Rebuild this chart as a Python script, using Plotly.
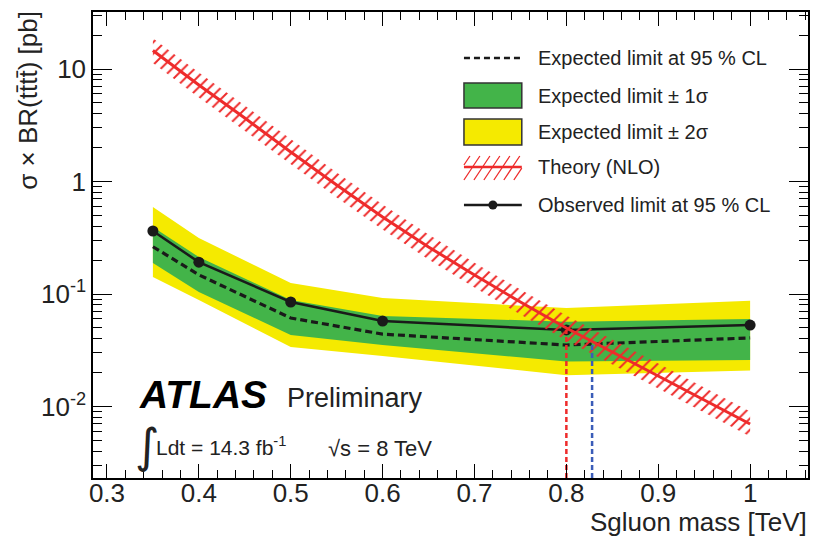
import plotly.graph_objects as go

# ---------------- data ----------------
mass = [0.35, 0.40, 0.50, 0.60, 0.80, 1.00]
observed = [0.363, 0.192, 0.0849, 0.0575, 0.0479, 0.0530]
expected = [0.263, 0.148, 0.0612, 0.0440, 0.0352, 0.0407]
exp_1s_up = [0.394, 0.213, 0.0885, 0.0637, 0.0568, 0.0600]
exp_1s_dn = [0.189, 0.104, 0.0432, 0.0352, 0.0251, 0.0259]
exp_2s_up = [0.593, 0.315, 0.125, 0.092, 0.0750, 0.0870]
exp_2s_dn = [0.1416, 0.0885, 0.0338, 0.0281, 0.0190, 0.0209]

theory_mass = [0.35, 0.40, 0.45, 0.50, 0.55, 0.60, 0.65, 0.70, 0.75, 0.80, 0.85, 0.90, 0.95, 1.00]
theory = [14.6, 7.21, 3.67, 1.83, 0.931, 0.484, 0.262, 0.1475, 0.0849, 0.0499, 0.0305, 0.01866, 0.01142, 0.00699]
theory_up = [18.8, 9.30, 4.73, 2.36, 1.20, 0.624, 0.338, 0.190, 0.1095, 0.0644, 0.0393, 0.0241, 0.01473, 0.00902]
theory_dn = [11.3, 5.59, 2.84, 1.42, 0.722, 0.375, 0.203, 0.1143, 0.0658, 0.0387, 0.0236, 0.01447, 0.00885, 0.00542]

obs_limit_mass, obs_limit_xsec = 0.800, 0.0479
exp_limit_mass, exp_limit_xsec = 0.828, 0.0366

x_ticks = [0.3, 0.4, 0.5, 0.6, 0.7, 0.8, 0.9, 1.0]
x_ticktext = ["0.3", "0.4", "0.5", "0.6", "0.7", "0.8", "0.9", "1"]
y_ticks = [0.01, 0.1, 1, 10]
y_ticktext = ["10<sup>-2</sup>", "10<sup>-1</sup>", "1", "10"]

legend_labels = ["Expected limit at 95 % CL", "Expected limit \u00b1 1\u03c3",
                 "Expected limit \u00b1 2\u03c3", "Theory (NLO)", "Observed limit at 95 % CL"]

# ---------------- style ----------------
FONT = "Liberation Sans, Arial, Helvetica, sans-serif"
GREEN = "#43b449"
YELLOW = "#f5ea00"
RED = "#ee2b2b"
BLUE = "#3a5cb8"
BLACK = "#1a1a1a"

W, H = 814, 542
L, R, T, B = 93, 810, 12, 478
x_range = [0.2848, 1.0630]
y_range = [-2.6356, 1.5067]
y_axis_min = 10 ** y_range[0]


def px(x):
    return (x - L) / (R - L)


def py(y):
    return (B - y) / (B - T)


fig = go.Figure()

# 2 sigma band
fig.add_trace(go.Scatter(x=mass, y=exp_2s_dn, mode="lines", line=dict(width=0, color=YELLOW),
                         showlegend=False, hoverinfo="skip"))
fig.add_trace(go.Scatter(x=mass, y=exp_2s_up, mode="lines", line=dict(width=0, color=YELLOW),
                         fill="tonexty", fillcolor=YELLOW, showlegend=False, hoverinfo="skip"))
# 1 sigma band
fig.add_trace(go.Scatter(x=mass, y=exp_1s_dn, mode="lines", line=dict(width=0, color=GREEN),
                         showlegend=False, hoverinfo="skip"))
fig.add_trace(go.Scatter(x=mass, y=exp_1s_up, mode="lines", line=dict(width=0, color=GREEN),
                         fill="tonexty", fillcolor=GREEN, showlegend=False, hoverinfo="skip"))
# expected
fig.add_trace(go.Scatter(x=mass, y=expected, mode="lines",
                         line=dict(color=BLACK, width=3.2, dash="7px,4px"), showlegend=False))
# observed
fig.add_trace(go.Scatter(x=mass, y=observed, mode="lines+markers",
                         line=dict(color=BLACK, width=2.5),
                         marker=dict(color=BLACK, size=11), showlegend=False))
# theory band (hatched)
fig.add_trace(go.Scatter(x=theory_mass + theory_mass[::-1], y=theory_up + theory_dn[::-1],
                         mode="lines", fill="toself", line=dict(width=0, color=RED),
                         fillcolor="rgba(0,0,0,0)",
                         fillpattern=dict(shape="/", fgcolor=RED, bgcolor="rgba(0,0,0,0)",
                                          fgopacity=1, size=8, solidity=0.25, fillmode="overlay"),
                         showlegend=False, hoverinfo="skip"))
fig.add_trace(go.Scatter(x=theory_mass, y=theory, mode="lines",
                         line=dict(color=RED, width=3), showlegend=False))
# exclusion lines
fig.add_trace(go.Scatter(x=[obs_limit_mass, obs_limit_mass], y=[y_axis_min, obs_limit_xsec],
                         mode="lines", line=dict(color=RED, width=2.5, dash="5px,3px"),
                         showlegend=False))
fig.add_trace(go.Scatter(x=[exp_limit_mass, exp_limit_mass], y=[y_axis_min, exp_limit_xsec],
                         mode="lines", line=dict(color=BLUE, width=2.5, dash="5px,3px"),
                         showlegend=False))

# ---------------- legend (manual) ----------------
shapes = []
ann = []
lx0, lx1 = 465, 523
rows = [58, 95.5, 132, 167, 205]
shapes.append(dict(type="line", xref="paper", yref="paper", x0=px(lx0), x1=px(lx1),
                   y0=py(rows[0]), y1=py(rows[0]), line=dict(color=BLACK, width=2.5, dash="6px,4px")))
shapes.append(dict(type="rect", xref="paper", yref="paper", x0=px(lx0), x1=px(lx1),
                   y0=py(83), y1=py(108), fillcolor=GREEN, line=dict(color="#333333", width=1.5)))
shapes.append(dict(type="rect", xref="paper", yref="paper", x0=px(lx0), x1=px(lx1),
                   y0=py(119), y1=py(145), fillcolor=YELLOW, line=dict(color="#333333", width=1.5)))
# hatch strokes for theory legend
path = ""
for xb in [455, 465, 475, 485, 495, 505, 515]:
    xa, ya = xb, 180.0
    t0 = max(0.0, (lx0 - xa) / 16.0)
    t1 = min(1.0, (lx1 - xa) / 16.0)
    if t1 <= t0:
        continue
    sx, sy = xa + 16 * t0, ya - 24 * t0
    ex, ey = xa + 16 * t1, ya - 24 * t1
    path += "M%.4f,%.4f L%.4f,%.4f " % (px(sx), py(sy), px(ex), py(ey))
shapes.append(dict(type="path", xref="paper", yref="paper", path=path, line=dict(color=RED, width=1.3)))
shapes.append(dict(type="line", xref="paper", yref="paper", x0=px(lx0), x1=px(lx1),
                   y0=py(rows[3]), y1=py(rows[3]), line=dict(color=RED, width=2.5)))
shapes.append(dict(type="line", xref="paper", yref="paper", x0=px(lx0), x1=px(lx1),
                   y0=py(rows[4]), y1=py(rows[4]), line=dict(color=BLACK, width=2.5)))
shapes.append(dict(type="circle", xref="paper", yref="paper", x0=px(489.5), x1=px(498.5),
                   y0=py(200.5), y1=py(209.5), fillcolor=BLACK, line=dict(color=BLACK, width=0)))

for label, yc in zip(legend_labels, rows):
    ann.append(dict(text=label, xref="paper", yref="paper", x=px(537), y=py(yc),
                    xanchor="left", yanchor="middle", showarrow=False,
                    font=dict(family=FONT, size=20, color="#222222")))

# ATLAS label
ann.append(dict(text="<b><i>ATLAS</i></b>", xref="paper", yref="paper", x=px(137), y=py(394),
                xanchor="left", yanchor="middle", showarrow=False,
                font=dict(family=FONT, size=39, color="black")))
ann.append(dict(text="Preliminary", xref="paper", yref="paper", x=px(286), y=py(398),
                xanchor="left", yanchor="middle", showarrow=False,
                font=dict(family=FONT, size=27, color="#222222")))
ann.append(dict(text="\u222b", xref="paper", yref="paper", x=px(148), y=py(445),
                xanchor="center", yanchor="middle", showarrow=False,
                font=dict(family="DejaVu Sans, sans-serif", size=47, color="#222222")))
ann.append(dict(text="Ldt = 14.3 fb<sup>-1</sup>", xref="paper", yref="paper", x=px(154), y=py(446),
                xanchor="left", yanchor="middle", showarrow=False,
                font=dict(family=FONT, size=21, color="#222222")))
ann.append(dict(text="\u221as = 8 TeV", xref="paper", yref="paper", x=px(327), y=py(448),
                xanchor="left", yanchor="middle", showarrow=False,
                font=dict(family=FONT, size=22, color="#222222")))

# axis titles
ann.append(dict(text="Sgluon mass [TeV]", xref="paper", yref="paper", x=px(811), y=py(522),
                xanchor="right", yanchor="middle", showarrow=False,
                font=dict(family=FONT, size=26, color="#222222")))
ann.append(dict(text="\u03c3 \u00d7 BR(tt\u0304tt\u0304) [pb]", xref="paper", yref="paper",
                x=px(28), y=py(9), xanchor="center", yanchor="top", textangle=-90,
                showarrow=False, font=dict(family=FONT, size=26, color="#222222")))

x_minor = [round(0.28 + 0.02 * i, 2) for i in range(40) if 0.28 + 0.02 * i < 1.07]
y_minor = [m * 10 ** e for e in range(-3, 2) for m in range(2, 10)]

fig.update_layout(
    width=W, height=H,
    margin=dict(l=L, r=W - R, t=T, b=H - B),
    paper_bgcolor="white", plot_bgcolor="white",
    font=dict(family=FONT, size=26, color="#222222"),
    showlegend=False,
    shapes=shapes, annotations=ann,
    xaxis=dict(range=x_range, showgrid=False, zeroline=False,
               showline=True, linecolor="black", linewidth=1.5, mirror="allticks",
               ticks="inside", ticklen=14, tickwidth=1, tickcolor="black",
               tickmode="array", tickvals=x_ticks, ticktext=x_ticktext,
               ticklabelstandoff=-9,
               tickfont=dict(family=FONT, size=26, color="#222222"),
               minor=dict(ticks="inside", ticklen=8, tickwidth=1, tickcolor="black",
                          tickmode="array", tickvals=x_minor, showgrid=False)),
    yaxis=dict(type="log", range=y_range, showgrid=False, zeroline=False,
               showline=True, linecolor="black", linewidth=1.5, mirror="allticks",
               ticks="inside", ticklen=19, tickwidth=1, tickcolor="black",
               tickmode="array", tickvals=y_ticks, ticktext=y_ticktext,
               tickfont=dict(family=FONT, size=26, color="#222222"),
               minor=dict(ticks="inside", ticklen=9, tickwidth=1, tickcolor="black",
                          tickmode="array", tickvals=y_minor, showgrid=False)),
)

fig.write_html("out.html", config={"displayModeBar": False},
               post_script="document.body.style.margin='0';")
